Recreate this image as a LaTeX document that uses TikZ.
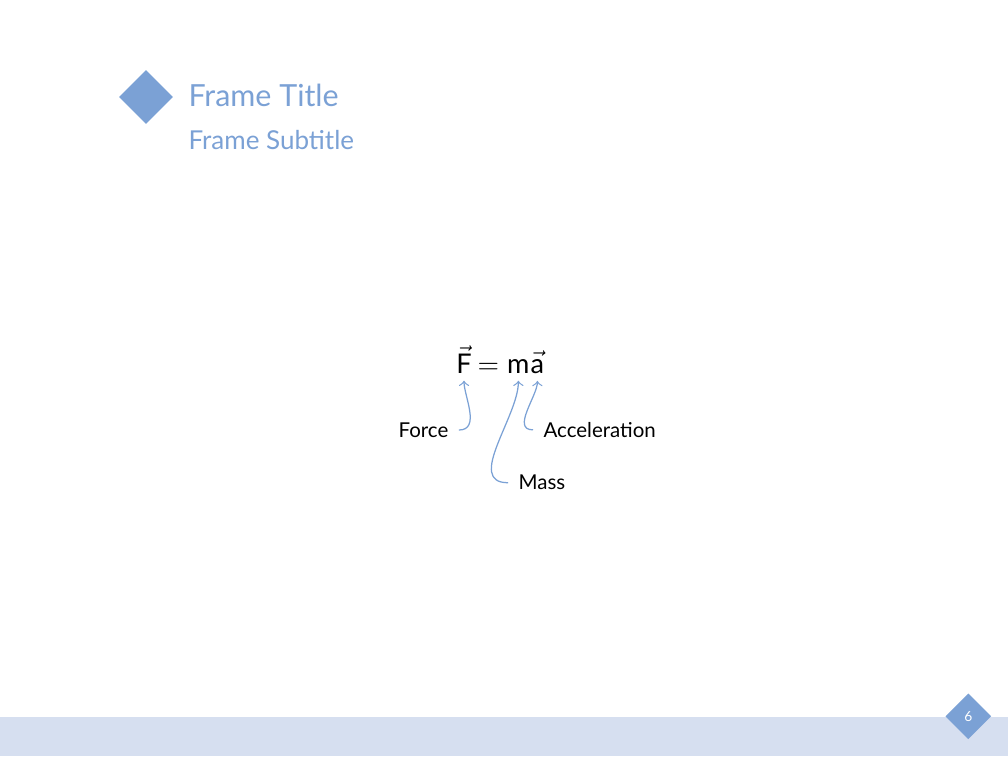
\documentclass[tikz,border=0pt]{standalone}
\usepackage{fontspec}
\setmainfont{Lato}
\usepackage{amsmath}
\usepackage{tikz}
\usetikzlibrary{positioning,shapes.geometric}
\definecolor{themeblue}{RGB}{123,161,213}
\definecolor{footerblue}{RGB}{214,223,240}

\begin{document}
\begin{tikzpicture}[
    mark diamond/.style={diamond, fill=themeblue, inner sep=0pt, aspect=1},
    eqpart/.style={inner sep=0pt, font=\fontsize{9.8}{11}\selectfont},
    label text/.style={inner sep=3.6pt, font=\fontsize{7.4}{9}\selectfont},
    callout/.style={->, themeblue, line width=0.45pt, shorten >=0.9mm}
]
\useasboundingbox (0,0) rectangle (12.8,9.6);
\fill[footerblue] (0,0) rectangle (12.8,0.5);
\node[mark diamond, minimum size=0.686cm] (titlemark) at (1.854,8.368) {};
\node[anchor=base west, inner sep=0pt, text=themeblue, font=\fontsize{11}{13}\selectfont] (title) at (2.387,8.245) {Frame Title};
\node[anchor=base west, inner sep=0pt, text=themeblue, font=\fontsize{9.4}{11}\selectfont] (subtitle) at (2.387,7.704) {Frame Subtitle};
\node[mark diamond, minimum size=0.584cm, text=white, font=\fontsize{5}{6}\selectfont] (pagenum) at (12.296,0.504) {6};

\node[eqpart, anchor=base] (F) at (5.892,4.863) {$\vec{\text{F}}$};
\node[eqpart, base right=0.6mm of F] (eq) {$=$};
\node[eqpart, base right=0.9mm of eq] (m) {\text{m}};
\node[eqpart, base right=0pt of m] (a) {$\vec{\text{a}}$};

\node[label text, anchor=base west, inner sep=0pt] (Force) at (5.054,4.047) {Force};
\node[label text, anchor=base west, inner sep=0pt] (Acceleration) at (6.895,4.047) {Acceleration};
\node[label text, anchor=base west, inner sep=0pt] (Mass) at (6.578,3.378) {Mass};

\draw[callout] ([xshift=3.6pt]Force.east) to[out=0, in=-90] (F.south);
\draw[callout] ([xshift=-3.6pt]Mass.west) to[out=180, in=-90] (m.south);
\draw[callout] ([xshift=-3.6pt]Acceleration.west) to[out=180, in=-90] (a.south);
\end{tikzpicture}
\end{document}
